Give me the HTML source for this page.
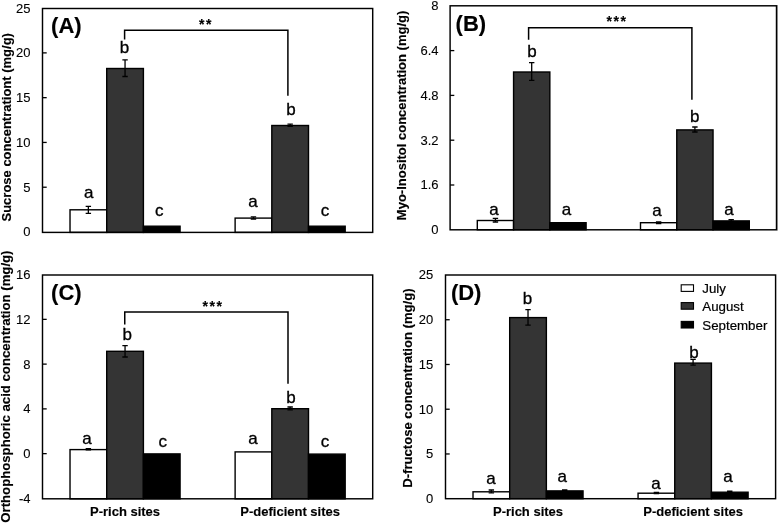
<!DOCTYPE html><html><head><meta charset="utf-8"><style>html,body{margin:0;padding:0;background:#fff;}svg{display:block;will-change:transform;}text{font-family:"Liberation Sans", sans-serif;stroke:#000;stroke-width:0.15px;}.t{stroke-width:0.1px;}.l{stroke-width:0.32px;}.lg{stroke-width:0.2px;}</style></head><body>
<svg width="778" height="523" viewBox="0 0 778 523">
<rect width="778" height="523" fill="#fff"/>
<rect x="70.02" y="209.80" width="36.69" height="22.60" fill="#ffffff" stroke="#000" stroke-width="1.40"/>
<rect x="106.71" y="68.50" width="36.69" height="163.90" fill="#343434" stroke="#000" stroke-width="1.40"/>
<rect x="143.39" y="226.20" width="36.69" height="6.20" fill="#000000" stroke="#000" stroke-width="1.40"/>
<rect x="235.12" y="218.10" width="36.69" height="14.30" fill="#ffffff" stroke="#000" stroke-width="1.40"/>
<rect x="271.81" y="125.50" width="36.69" height="106.90" fill="#343434" stroke="#000" stroke-width="1.40"/>
<rect x="308.49" y="226.20" width="36.69" height="6.20" fill="#000000" stroke="#000" stroke-width="1.40"/>
<path d="M88.36 206.40V213.40M85.66 206.40h5.4M85.66 213.40h5.4" stroke="#000" stroke-width="1.30" fill="none"/>
<path d="M125.05 59.90V76.50M122.35 59.90h5.4M122.35 76.50h5.4" stroke="#000" stroke-width="1.30" fill="none"/>
<path d="M253.46 216.90V219.00M250.76 216.90h5.4M250.76 219.00h5.4" stroke="#000" stroke-width="1.30" fill="none"/>
<path d="M290.15 124.20V126.30M287.45 124.20h5.4M287.45 126.30h5.4" stroke="#000" stroke-width="1.30" fill="none"/>
<rect x="42.50" y="8.50" width="330.20" height="223.90" fill="none" stroke="#000" stroke-width="1.45"/>
<text class="t" x="30.40" y="236.40" font-size="13" text-anchor="end">0</text>
<path d="M42.50 187.22h4.20" stroke="#000" stroke-width="1.30"/>
<text class="t" x="30.40" y="191.62" font-size="13" text-anchor="end">5</text>
<path d="M42.50 142.44h4.20" stroke="#000" stroke-width="1.30"/>
<text class="t" x="30.40" y="146.84" font-size="13" text-anchor="end">10</text>
<path d="M42.50 97.66h4.20" stroke="#000" stroke-width="1.30"/>
<text class="t" x="30.40" y="102.06" font-size="13" text-anchor="end">15</text>
<path d="M42.50 52.88h4.20" stroke="#000" stroke-width="1.30"/>
<text class="t" x="30.40" y="57.28" font-size="13" text-anchor="end">20</text>
<text class="t" x="30.40" y="12.50" font-size="13" text-anchor="end">25</text>
<text class="l" x="88.85" y="197.50" font-size="17" text-anchor="middle">a</text>
<text class="l" x="124.55" y="53.00" font-size="17" text-anchor="middle">b</text>
<text class="l" x="159.25" y="215.90" font-size="17" text-anchor="middle">c</text>
<text class="l" x="252.90" y="207.00" font-size="17" text-anchor="middle">a</text>
<text class="l" x="290.90" y="115.40" font-size="17" text-anchor="middle">b</text>
<text class="l" x="325.00" y="215.90" font-size="17" text-anchor="middle">c</text>
<text x="51.10" y="33.30" font-size="22" font-weight="bold">(A)</text>
<text transform="translate(10.50 127.30) rotate(-90)" x="-94.20" y="0" font-size="13" font-weight="bold" textLength="188.4" lengthAdjust="spacingAndGlyphs">Sucrose concentrationt (mg/g)</text>
<path d="M124.60 39.60V30.25H287.90V95.70" stroke="#000" stroke-width="1.50" fill="none"/>
<text x="201.85" y="29.20" font-size="14.0" font-weight="bold" text-anchor="middle">*</text>
<text x="208.85" y="29.20" font-size="14.0" font-weight="bold" text-anchor="middle">*</text>
<rect x="477.30" y="220.50" width="36.27" height="9.30" fill="#ffffff" stroke="#000" stroke-width="1.40"/>
<rect x="513.57" y="72.00" width="36.27" height="157.80" fill="#343434" stroke="#000" stroke-width="1.40"/>
<rect x="549.83" y="222.70" width="36.27" height="7.10" fill="#000000" stroke="#000" stroke-width="1.40"/>
<rect x="640.50" y="222.70" width="36.27" height="7.10" fill="#ffffff" stroke="#000" stroke-width="1.40"/>
<rect x="676.77" y="129.90" width="36.27" height="99.90" fill="#343434" stroke="#000" stroke-width="1.40"/>
<rect x="713.03" y="220.90" width="36.27" height="8.90" fill="#000000" stroke="#000" stroke-width="1.40"/>
<path d="M495.43 218.40V222.00M492.73 218.40h5.4M492.73 222.00h5.4" stroke="#000" stroke-width="1.30" fill="none"/>
<path d="M531.70 62.70V80.40M529.00 62.70h5.4M529.00 80.40h5.4" stroke="#000" stroke-width="1.30" fill="none"/>
<path d="M658.63 222.00V223.60M655.93 222.00h5.4M655.93 223.60h5.4" stroke="#000" stroke-width="1.30" fill="none"/>
<path d="M694.90 127.00V132.00M692.20 127.00h5.4M692.20 132.00h5.4" stroke="#000" stroke-width="1.30" fill="none"/>
<path d="M731.17 219.70V221.30M728.47 219.70h5.4M728.47 221.30h5.4" stroke="#000" stroke-width="1.30" fill="none"/>
<rect x="450.10" y="5.80" width="326.40" height="224.00" fill="none" stroke="#000" stroke-width="1.45"/>
<text class="t" x="438.60" y="234.20" font-size="13" text-anchor="end">0</text>
<path d="M450.10 185.00h4.20" stroke="#000" stroke-width="1.30"/>
<text class="t" x="438.60" y="189.40" font-size="13" text-anchor="end">1.6</text>
<path d="M450.10 140.20h4.20" stroke="#000" stroke-width="1.30"/>
<text class="t" x="438.60" y="144.60" font-size="13" text-anchor="end">3.2</text>
<path d="M450.10 95.40h4.20" stroke="#000" stroke-width="1.30"/>
<text class="t" x="438.60" y="99.80" font-size="13" text-anchor="end">4.8</text>
<path d="M450.10 50.60h4.20" stroke="#000" stroke-width="1.30"/>
<text class="t" x="438.60" y="55.00" font-size="13" text-anchor="end">6.4</text>
<text class="t" x="438.60" y="10.20" font-size="13" text-anchor="end">8</text>
<text class="l" x="494.00" y="214.80" font-size="17" text-anchor="middle">a</text>
<text class="l" x="532.00" y="57.40" font-size="17" text-anchor="middle">b</text>
<text class="l" x="566.40" y="214.80" font-size="17" text-anchor="middle">a</text>
<text class="l" x="657.00" y="216.00" font-size="17" text-anchor="middle">a</text>
<text class="l" x="694.70" y="121.50" font-size="17" text-anchor="middle">b</text>
<text class="l" x="729.10" y="214.80" font-size="17" text-anchor="middle">a</text>
<text x="455.60" y="31.10" font-size="22" font-weight="bold">(B)</text>
<text transform="translate(406.00 115.45) rotate(-90)" x="-104.70" y="0" font-size="13" font-weight="bold" textLength="209.4" lengthAdjust="spacingAndGlyphs">Myo-Inositol concentration (mg/g)</text>
<path d="M528.60 39.70V27.70H691.90V99.70" stroke="#000" stroke-width="1.50" fill="none"/>
<text x="609.30" y="26.05" font-size="14.0" font-weight="bold" text-anchor="middle">*</text>
<text x="616.30" y="26.05" font-size="14.0" font-weight="bold" text-anchor="middle">*</text>
<text x="623.30" y="26.05" font-size="14.0" font-weight="bold" text-anchor="middle">*</text>
<rect x="70.02" y="449.60" width="36.69" height="49.20" fill="#ffffff" stroke="#000" stroke-width="1.40"/>
<rect x="106.71" y="351.30" width="36.69" height="147.50" fill="#343434" stroke="#000" stroke-width="1.40"/>
<rect x="143.39" y="453.90" width="36.69" height="44.90" fill="#000000" stroke="#000" stroke-width="1.40"/>
<rect x="235.12" y="451.90" width="36.69" height="46.90" fill="#ffffff" stroke="#000" stroke-width="1.40"/>
<rect x="271.81" y="408.70" width="36.69" height="90.10" fill="#343434" stroke="#000" stroke-width="1.40"/>
<rect x="308.49" y="454.10" width="36.69" height="44.70" fill="#000000" stroke="#000" stroke-width="1.40"/>
<path d="M88.36 448.60V449.90M85.66 448.60h5.4M85.66 449.90h5.4" stroke="#000" stroke-width="1.30" fill="none"/>
<path d="M125.05 345.60V357.00M122.35 345.60h5.4M122.35 357.00h5.4" stroke="#000" stroke-width="1.30" fill="none"/>
<path d="M290.15 407.00V409.90M287.45 407.00h5.4M287.45 409.90h5.4" stroke="#000" stroke-width="1.30" fill="none"/>
<rect x="42.50" y="275.00" width="330.20" height="223.80" fill="none" stroke="#000" stroke-width="1.45"/>
<text class="t" x="30.50" y="502.80" font-size="13" text-anchor="end">-4</text>
<path d="M42.50 453.64h4.20" stroke="#000" stroke-width="1.30"/>
<text class="t" x="30.50" y="458.04" font-size="13" text-anchor="end">0</text>
<path d="M42.50 408.88h4.20" stroke="#000" stroke-width="1.30"/>
<text class="t" x="30.50" y="413.28" font-size="13" text-anchor="end">4</text>
<path d="M42.50 364.12h4.20" stroke="#000" stroke-width="1.30"/>
<text class="t" x="30.50" y="368.52" font-size="13" text-anchor="end">8</text>
<path d="M42.50 319.36h4.20" stroke="#000" stroke-width="1.30"/>
<text class="t" x="30.50" y="323.76" font-size="13" text-anchor="end">12</text>
<text class="t" x="30.50" y="279.00" font-size="13" text-anchor="end">16</text>
<text class="l" x="87.00" y="444.00" font-size="17" text-anchor="middle">a</text>
<text class="l" x="127.30" y="340.30" font-size="17" text-anchor="middle">b</text>
<text class="l" x="162.70" y="447.30" font-size="17" text-anchor="middle">c</text>
<text class="l" x="253.00" y="444.00" font-size="17" text-anchor="middle">a</text>
<text class="l" x="290.90" y="403.40" font-size="17" text-anchor="middle">b</text>
<text class="l" x="325.10" y="447.10" font-size="17" text-anchor="middle">c</text>
<text x="51.10" y="300.20" font-size="22" font-weight="bold">(C)</text>
<text transform="translate(9.70 386.60) rotate(-90)" x="-136.10" y="0" font-size="13" font-weight="bold" textLength="272.2" lengthAdjust="spacingAndGlyphs">Orthophosphoric acid concentration (mg/g)</text>
<path d="M124.75 324.60V312.10H288.00V383.70" stroke="#000" stroke-width="1.50" fill="none"/>
<text x="205.20" y="310.50" font-size="14.0" font-weight="bold" text-anchor="middle">*</text>
<text x="212.20" y="310.50" font-size="14.0" font-weight="bold" text-anchor="middle">*</text>
<text x="219.20" y="310.50" font-size="14.0" font-weight="bold" text-anchor="middle">*</text>
<rect x="473.01" y="491.80" width="36.68" height="6.90" fill="#ffffff" stroke="#000" stroke-width="1.40"/>
<rect x="509.69" y="317.60" width="36.68" height="181.10" fill="#343434" stroke="#000" stroke-width="1.40"/>
<rect x="546.36" y="490.90" width="36.68" height="7.80" fill="#000000" stroke="#000" stroke-width="1.40"/>
<rect x="638.06" y="493.20" width="36.68" height="5.50" fill="#ffffff" stroke="#000" stroke-width="1.40"/>
<rect x="674.74" y="363.10" width="36.68" height="135.60" fill="#343434" stroke="#000" stroke-width="1.40"/>
<rect x="711.41" y="492.20" width="36.68" height="6.50" fill="#000000" stroke="#000" stroke-width="1.40"/>
<path d="M491.35 490.00V492.90M488.65 490.00h5.4M488.65 492.90h5.4" stroke="#000" stroke-width="1.30" fill="none"/>
<path d="M528.02 309.70V325.10M525.32 309.70h5.4M525.32 325.10h5.4" stroke="#000" stroke-width="1.30" fill="none"/>
<path d="M564.70 489.90V491.10M562.00 489.90h5.4M562.00 491.10h5.4" stroke="#000" stroke-width="1.30" fill="none"/>
<path d="M656.40 492.40V493.60M653.70 492.40h5.4M653.70 493.60h5.4" stroke="#000" stroke-width="1.30" fill="none"/>
<path d="M693.08 359.30V365.10M690.38 359.30h5.4M690.38 365.10h5.4" stroke="#000" stroke-width="1.30" fill="none"/>
<path d="M729.75 491.20V492.40M727.05 491.20h5.4M727.05 492.40h5.4" stroke="#000" stroke-width="1.30" fill="none"/>
<rect x="445.50" y="275.00" width="330.10" height="223.70" fill="none" stroke="#000" stroke-width="1.45"/>
<text class="t" x="433.30" y="503.10" font-size="13" text-anchor="end">0</text>
<path d="M445.50 453.96h4.20" stroke="#000" stroke-width="1.30"/>
<text class="t" x="433.30" y="458.36" font-size="13" text-anchor="end">5</text>
<path d="M445.50 409.22h4.20" stroke="#000" stroke-width="1.30"/>
<text class="t" x="433.30" y="413.62" font-size="13" text-anchor="end">10</text>
<path d="M445.50 364.48h4.20" stroke="#000" stroke-width="1.30"/>
<text class="t" x="433.30" y="368.88" font-size="13" text-anchor="end">15</text>
<path d="M445.50 319.74h4.20" stroke="#000" stroke-width="1.30"/>
<text class="t" x="433.30" y="324.14" font-size="13" text-anchor="end">20</text>
<text class="t" x="433.30" y="279.40" font-size="13" text-anchor="end">25</text>
<text class="l" x="491.00" y="484.30" font-size="17" text-anchor="middle">a</text>
<text class="l" x="527.50" y="304.10" font-size="17" text-anchor="middle">b</text>
<text class="l" x="562.30" y="481.60" font-size="17" text-anchor="middle">a</text>
<text class="l" x="655.90" y="489.30" font-size="17" text-anchor="middle">a</text>
<text class="l" x="693.90" y="357.50" font-size="17" text-anchor="middle">b</text>
<text class="l" x="728.10" y="482.10" font-size="17" text-anchor="middle">a</text>
<text x="450.90" y="300.30" font-size="22" font-weight="bold">(D)</text>
<text transform="translate(411.50 388.10) rotate(-90)" x="-99.65" y="0" font-size="13" font-weight="bold" textLength="199.3" lengthAdjust="spacingAndGlyphs">D-fructose concentration (mg/g)</text>
<path d="M777.5 5.1V230.5" stroke="#888" stroke-width="1"/>
<text x="125.05" y="516.3" font-size="13" font-weight="bold" text-anchor="middle">P-rich sites</text>
<text x="290.15" y="516.3" font-size="13" font-weight="bold" text-anchor="middle">P-deficient sites</text>
<text x="528.02" y="516.3" font-size="13" font-weight="bold" text-anchor="middle">P-rich sites</text>
<text x="693.08" y="516.3" font-size="13" font-weight="bold" text-anchor="middle">P-deficient sites</text>
<rect x="681.2" y="284.80" width="12.3" height="6.6" fill="#fff" stroke="#000" stroke-width="1.1"/>
<text class="lg" x="702.3" y="293.00" font-size="13.3">July</text>
<rect x="681.2" y="302.60" width="12.3" height="6.6" fill="#343434" stroke="#000" stroke-width="1.1"/>
<text class="lg" x="702.3" y="311.30" font-size="13.3">August</text>
<rect x="681.2" y="321.40" width="12.3" height="6.6" fill="#000" stroke="#000" stroke-width="1.1"/>
<text class="lg" x="702.3" y="329.50" font-size="13.3">September</text>
</svg></body></html>
